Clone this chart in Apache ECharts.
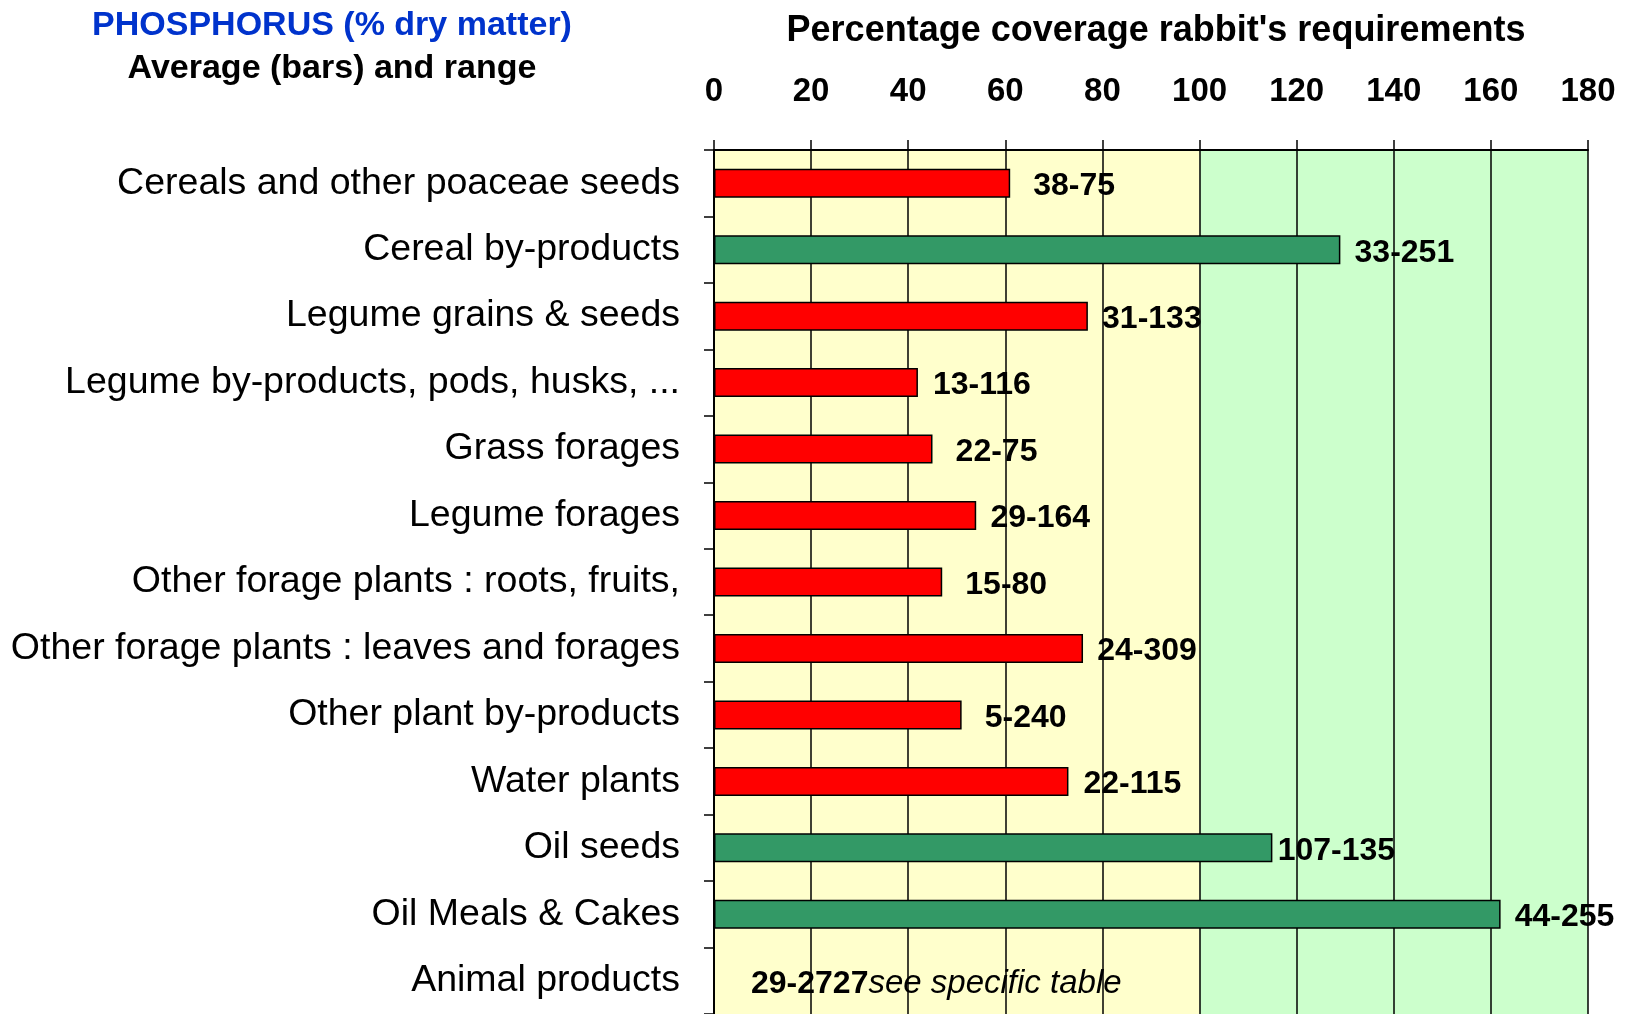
<!DOCTYPE html>
<html>
<head>
<meta charset="utf-8">
<title>Phosphorus coverage</title>
<script src="https://cdn.jsdelivr.net/npm/echarts@6/dist/echarts.min.js"></script>
<style>
  html, body { margin: 0; padding: 0; background: #fff; }
  #chart { width: 1635px; height: 1014px; }
</style>
</head>
<body>
<div id="chart"></div>
<script>
// feed groups, top to bottom
var categories = [
  "Cereals and other poaceae seeds",
  "Cereal by-products",
  "Legume grains & seeds",
  "Legume by-products, pods, husks, ...",
  "Grass forages",
  "Legume forages",
  "Other forage plants : roots, fruits,",
  "Other forage plants : leaves and forages",
  "Other plant by-products",
  "Water plants",
  "Oil seeds",
  "Oil Meals & Cakes",
  "Animal products"
];
// average coverage (%) of the rabbit's requirements
var avgCoverage = [61, 129, 77, 42, 45, 54, 47, 76, 51, 73, 115, 162, null];
// range printed next to each bar
var rangeLabels = [
  "38-75", "33-251", "31-133", "13-116", "22-75", "29-164", "15-80",
  "24-309", "5-240", "22-115", "107-135", "44-255", "29-2727"
];
var noBarNote = "see specific table";
var xTicks = [0, 20, 40, 60, 80, 100, 120, 140, 160, 180];

var FONT = "'Liberation Sans', Arial, sans-serif";
var RED = "#FF0000";
var GREEN = "#339966";

var chart = echarts.init(document.getElementById("chart"));

var barData = avgCoverage.map(function (v, i) {
  if (v === null) {
    // no bar: only the range and a note
    return {
      value: 0,
      itemStyle: { color: "rgba(0,0,0,0)", borderWidth: 0 },
      label: {
        align: "left",
        offset: [37, 3],
        formatter: "{b|" + rangeLabels[i] + "}{i|" + noBarNote + "}"
      }
    };
  }
  return { value: v };
});

var option = {
  animation: false,
  backgroundColor: "#fff",
  title: [
    {
      text: "PHOSPHORUS (% dry matter)",
      left: 327, top: 4, textAlign: "center",
      textStyle: { fontFamily: FONT, fontSize: 34, fontWeight: "bold", color: "#0033CC" }
    },
    {
      text: "Average (bars) and range",
      left: 327, top: 47, textAlign: "center",
      textStyle: { fontFamily: FONT, fontSize: 34, fontWeight: "bold", color: "#000" }
    },
    {
      text: "Percentage coverage rabbit's requirements",
      left: 1151, top: 8, textAlign: "center",
      textStyle: { fontFamily: FONT, fontSize: 36, fontWeight: "bold", color: "#000" }
    }
  ],
  grid: { left: 714, top: 150, width: 874, height: 867 },
  xAxis: {
    type: "value",
    position: "top",
    min: xTicks[0],
    max: xTicks[xTicks.length - 1],
    interval: 20,
    axisLine: { show: true, lineStyle: { color: "#000", width: 2 } },
    axisTick: { show: true, length: 10, lineStyle: { color: "#000", width: 1.5 } },
    axisLabel: {
      margin: 42,
      fontFamily: FONT, fontSize: 33, fontWeight: "bold", color: "#000"
    },
    splitLine: { show: true, lineStyle: { color: "#000", width: 1.5 } },
    splitArea: {
      show: true,
      areaStyle: {
        color: ["#FFFFCC", "#FFFFCC", "#FFFFCC", "#FFFFCC", "#FFFFCC",
                "#CCFFCC", "#CCFFCC", "#CCFFCC", "#CCFFCC"]
      }
    }
  },
  yAxis: {
    type: "category",
    inverse: true,
    data: categories,
    axisLine: { show: true, lineStyle: { color: "#000", width: 2 } },
    axisTick: { show: true, length: 10, lineStyle: { color: "#000", width: 1.5 } },
    axisLabel: {
      margin: 34,
      padding: [6, 0, 0, 0],
      fontFamily: FONT, fontSize: 37.5, color: "#000"
    }
  },
  series: [
    {
      type: "bar",
      data: barData,
      barWidth: 29,
      itemStyle: {
        borderColor: "#000",
        borderWidth: 1.5,
        color: function (p) {
          return p.value > 100 ? GREEN : RED;
        }
      },
      label: {
        show: true,
        position: ["100%", "50%"],
        offset: [64, 3],
        align: "center",
        verticalAlign: "middle",
        fontFamily: FONT, fontSize: 32, fontWeight: "bold", color: "#000",
        formatter: function (p) {
          return rangeLabels[p.dataIndex];
        },
        rich: {
          b: { fontFamily: FONT, fontSize: 32, fontWeight: "bold", color: "#000" },
          i: { fontFamily: FONT, fontSize: 33, fontStyle: "italic", fontWeight: "normal", color: "#000" }
        }
      }
    }
  ]
};

chart.setOption(option);
</script>
</body>
</html>
